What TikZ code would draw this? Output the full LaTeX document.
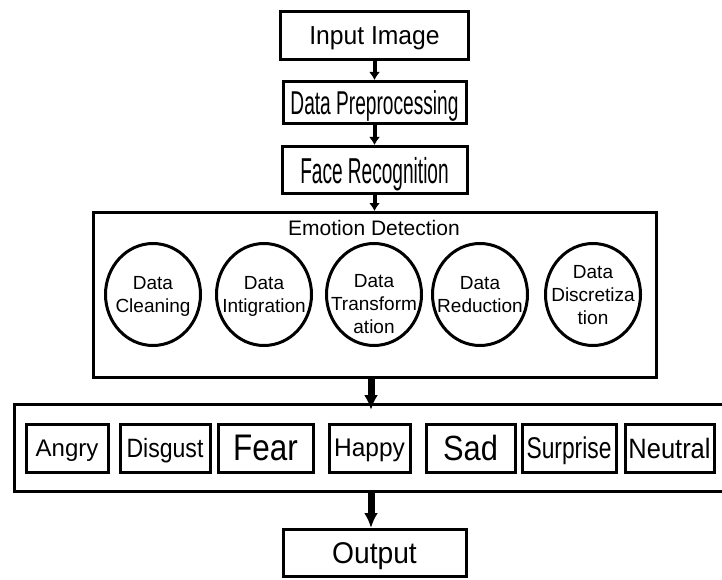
\documentclass[tikz,border=0pt]{standalone}
\usepackage{fontspec}
\setmainfont{Liberation Sans}
\usepackage{graphicx}
\usetikzlibrary{shapes,arrows.meta,positioning}
\newcommand{\squeezed}[2]{\scalebox{#1}[1]{#2}}
\tikzset{stage/.style={rectangle, draw, line width=3pt, fill=white, inner sep=2pt, text depth=0pt}}
\tikzset{emoframe/.style={rectangle, draw, line width=3pt, minimum width=563pt, minimum height=165pt}}
\tikzset{rowframe/.style={rectangle, draw, line width=3pt, minimum width=714pt, minimum height=87pt}}
\tikzset{emotion/.style={rectangle, draw, line width=3pt, minimum height=48pt, inner sep=2pt, text depth=0pt}}
\tikzset{datacircle/.style={ellipse, draw, line width=3pt, minimum width=95pt, minimum height=102pt, inner sep=0pt}}
\tikzset{datatext/.style={align=center, inner sep=0pt, text depth=0pt, font=\fontsize{19}{23}\selectfont}}
\tikzset{line/.style={draw, line width=4pt, -{Latex[length=8pt,width=11pt]}}}
\tikzset{thickline/.style={draw, line width=7pt, -{Latex[length=15pt,width=14pt]}}}

\begin{document}
\begin{tikzpicture}[x=1pt, y=-1pt]
        \path[use as bounding box, fill=white] (0,0) rectangle (722,580);
        \clip (0,0) rectangle (722,580);

        \node[stage, minimum width=188pt, minimum height=48pt, font=\fontsize{26}{30}\selectfont] (inp) at (374.5,35.5) {\squeezed{0.95}{Input Image}};
        \node[stage, below=19pt of inp, minimum width=183pt, minimum height=42pt, font=\fontsize{33}{36}\selectfont] (prep) {\squeezed{0.58}{Data Preprocessing}};
        \node[stage, below=20pt of prep, minimum width=185pt, minimum height=47pt, font=\fontsize{36}{40}\selectfont] (face) {\squeezed{0.53}{Face Recognition}};
        \node[emoframe, below=16pt of face] (emo) {};
        \node[font=\fontsize{21}{25}\selectfont, text depth=0pt] (emotitle) at (374,228) {Emotion Detection};

        \node[datacircle, label={[datatext]center:Data\\Cleaning}] (clean) at (153,294.5) {};
        \node[datacircle, label={[datatext]center:Data\\Intigration}] (integ) at (264,294.5) {};
        \node[datacircle, label={[datatext, yshift=-9pt]center:Data\\Transform\\ation}] (trans) at (374,294.5) {};
        \node[datacircle, label={[datatext]center:Data\\Reduction}] (reduc) at (480,294.5) {};
        \node[datacircle, label={[datatext]center:Data\\Discretiza\\tion}] (discr) at (593,294.5) {};

        \node[rowframe, below=24pt of emo, xshift=-3.5pt] (big) {};
        \node[emotion, right=12pt of big.west, minimum width=82pt, font=\fontsize{24}{28}\selectfont] (angry) {Angry};
        \node[emotion, right=9pt of angry, minimum width=90pt, font=\fontsize{26.5}{30}\selectfont] (disgust) {\squeezed{0.87}{Disgust}};
        \node[emotion, right=5pt of disgust, minimum width=95pt, font=\fontsize{37}{40}\selectfont] (fear) {\squeezed{0.85}{Fear}};
        \node[emotion, right=13pt of fear, minimum width=81pt, font=\fontsize{25.5}{30}\selectfont] (happy) {\squeezed{0.96}{Happy}};
        \node[emotion, right=13pt of happy, minimum width=89pt, font=\fontsize{35}{40}\selectfont] (sad) {\squeezed{0.88}{Sad}};
        \node[emotion, right=4pt of sad, minimum width=94pt, font=\fontsize{30}{34}\selectfont] (surprise) {\squeezed{0.76}{Surprise}};
        \node[emotion, right=6pt of surprise, minimum width=89pt, font=\fontsize{28}{32}\selectfont] (neutral) {\squeezed{0.91}{Neutral}};

        \node[stage, below=35pt of big, xshift=3.5pt, minimum width=183pt, minimum height=47pt, font=\fontsize{30}{34}\selectfont] (out) {\squeezed{0.94}{Output}};

        \path[line] (inp) -- (prep);
        \path[line] (prep) -- (face);
        \path[line] (face) -- (emo);
        \path[thickline] (emo.south -| big.north) -- ([yshift=-7pt]big.north);
        \path[thickline] (big.south) -- (big.south |- out.north);
\end{tikzpicture}
\end{document}
